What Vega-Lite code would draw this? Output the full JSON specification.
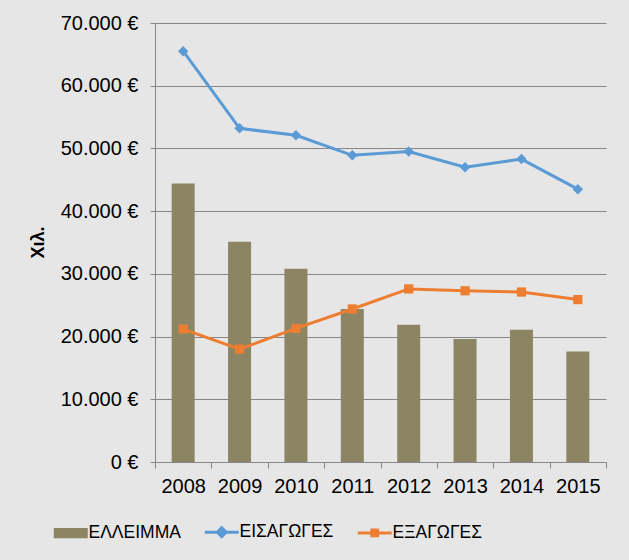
{
  "$schema": "https://vega.github.io/schema/vega-lite/v6.json",
  "autosize": {"type": "none"},
  "padding": {"left": 155, "top": 23, "right": 23, "bottom": 98},
  "width": 451,
  "height": 439,
  "background": "#e6e6e6",
  "config": {
    "view": {"stroke": null},
    "font": "Liberation Sans",
    "axis": {"labelFont": "Liberation Sans", "labelColor": "#000000", "domainColor": "#868686", "tickColor": "#868686", "gridColor": "#868686", "gridOpacity": 1, "gridWidth": 1}
  },
  "datasets": {
    "deficit": [
      {"year": "2008", "series": "ΕΛΛΕΙΜΜΑ", "value": 44400},
      {"year": "2009", "series": "ΕΛΛΕΙΜΜΑ", "value": 35100},
      {"year": "2010", "series": "ΕΛΛΕΙΜΜΑ", "value": 30800},
      {"year": "2011", "series": "ΕΛΛΕΙΜΜΑ", "value": 24400},
      {"year": "2012", "series": "ΕΛΛΕΙΜΜΑ", "value": 21900},
      {"year": "2013", "series": "ΕΛΛΕΙΜΜΑ", "value": 19600},
      {"year": "2014", "series": "ΕΛΛΕΙΜΜΑ", "value": 21100},
      {"year": "2015", "series": "ΕΛΛΕΙΜΜΑ", "value": 17600}
    ],
    "trade": [
      {"year": "2008", "series": "ΕΙΣΑΓΩΓΕΣ", "value": 65500},
      {"year": "2009", "series": "ΕΙΣΑΓΩΓΕΣ", "value": 53200},
      {"year": "2010", "series": "ΕΙΣΑΓΩΓΕΣ", "value": 52100},
      {"year": "2011", "series": "ΕΙΣΑΓΩΓΕΣ", "value": 48900},
      {"year": "2012", "series": "ΕΙΣΑΓΩΓΕΣ", "value": 49500},
      {"year": "2013", "series": "ΕΙΣΑΓΩΓΕΣ", "value": 47000},
      {"year": "2014", "series": "ΕΙΣΑΓΩΓΕΣ", "value": 48300},
      {"year": "2015", "series": "ΕΙΣΑΓΩΓΕΣ", "value": 43500},
      {"year": "2008", "series": "ΕΞΑΓΩΓΕΣ", "value": 21200},
      {"year": "2009", "series": "ΕΞΑΓΩΓΕΣ", "value": 18000},
      {"year": "2010", "series": "ΕΞΑΓΩΓΕΣ", "value": 21300},
      {"year": "2011", "series": "ΕΞΑΓΩΓΕΣ", "value": 24400},
      {"year": "2012", "series": "ΕΞΑΓΩΓΕΣ", "value": 27600},
      {"year": "2013", "series": "ΕΞΑΓΩΓΕΣ", "value": 27300},
      {"year": "2014", "series": "ΕΞΑΓΩΓΕΣ", "value": 27100},
      {"year": "2015", "series": "ΕΞΑΓΩΓΕΣ", "value": 25900}
    ]
  },
  "encoding": {
    "x": {
      "field": "year", "type": "nominal", "sort": null,
      "scale": {"type": "band", "paddingInner": 0, "paddingOuter": 0},
      "axis": {"title": null, "labelAngle": 0, "labelFontSize": 20, "tickSize": 6, "labelPadding": 8, "tickBand": "extent", "grid": false, "domainWidth": 1}
    },
    "y": {
      "field": "value", "type": "quantitative",
      "scale": {"domain": [0, 70000], "nice": false},
      "axis": {
        "title": "Χιλ.", "titleFontSize": 18, "titleFontWeight": "bold", "titleColor": "#000000",
        "titleX": -117, "titleY": 219, "titleAngle": -90, "titleAlign": "center", "titleBaseline": "middle",
        "values": [0, 10000, 20000, 30000, 40000, 50000, 60000, 70000],
        "labelExpr": "replace(format(datum.value, ','), ',', '.') + ' €'",
        "labelFontSize": 20, "tickSize": 5, "labelPadding": 12, "grid": true, "domainWidth": 1
      }
    },
    "color": {
      "field": "series", "type": "nominal",
      "scale": {"domain": ["ΕΛΛΕΙΜΜΑ", "ΕΙΣΑΓΩΓΕΣ", "ΕΞΑΓΩΓΕΣ"], "range": ["#8b8563", "#5b9bd5", "#ed7d31"]},
      "legend": {
        "title": null, "orient": "none", "direction": "horizontal", "legendX": -93, "legendY": 500,
        "labelFontSize": 17.5, "labelColor": "#000000", "labelFont": "Liberation Sans",
        "symbolSize": 1156, "labelOffset": 9, "columnPadding": 17,
        "encode": {
          "symbols": {
            "update": {
              "shape": {"signal": "datum.value == 'ΕΛΛΕΙΜΜΑ' ? 'M-1,-0.3H1V0.3H-1Z' : datum.value == 'ΕΙΣΑΓΩΓΕΣ' ? 'M-1,0H1M0,-0.26L0.26,0L0,0.26L-0.26,0Z' : 'M-1,0H1M-0.17,-0.17H0.17V0.17H-0.17Z'"},
              "fill": {"signal": "datum.value == 'ΕΛΛΕΙΜΜΑ' ? '#8b8563' : datum.value == 'ΕΙΣΑΓΩΓΕΣ' ? '#5b9bd5' : '#ed7d31'"},
              "stroke": {"signal": "datum.value == 'ΕΛΛΕΙΜΜΑ' ? '#8b8563' : datum.value == 'ΕΙΣΑΓΩΓΕΣ' ? '#5b9bd5' : '#ed7d31'"},
              "strokeWidth": {"signal": "datum.value == 'ΕΛΛΕΙΜΜΑ' ? 0 : 3"},
              "opacity": {"value": 1},
              "fillOpacity": {"value": 1},
              "strokeOpacity": {"value": 1}
            }
          }
        }
      }
    }
  },
  "layer": [
    {
      "data": {"name": "deficit"},
      "mark": {"type": "bar", "size": 23}
    },
    {
      "data": {"name": "trade"},
      "mark": {"type": "line", "strokeWidth": 3}
    },
    {
      "data": {"name": "trade"},
      "mark": {"type": "point", "filled": true, "opacity": 1},
      "encoding": {
        "shape": {"field": "series", "type": "nominal", "scale": {"domain": ["ΕΙΣΑΓΩΓΕΣ", "ΕΞΑΓΩΓΕΣ"], "range": ["diamond", "square"]}, "legend": null},
        "size": {"field": "series", "type": "nominal", "scale": {"domain": ["ΕΙΣΑΓΩΓΕΣ", "ΕΞΑΓΩΓΕΣ"], "range": [110, 85]}, "legend": null}
      }
    }
  ]
}
